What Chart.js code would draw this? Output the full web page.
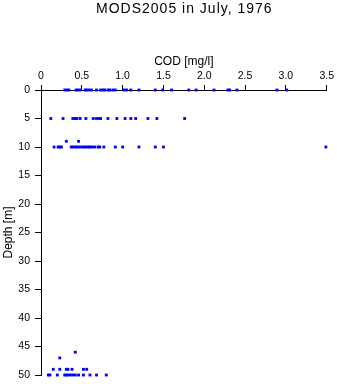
<!DOCTYPE html>
<html>
<head>
<meta charset="utf-8">
<script src="https://cdn.jsdelivr.net/npm/chart.js@4/dist/chart.umd.min.js"></script>
<style>
  html, body { margin: 0; padding: 0; background: #fff; }
  #c { display: block; }
</style>
</head>
<body>
<canvas id="c" width="337" height="384"></canvas>
<script>
// Sampling depths (m) and the COD readings (mg/l) taken at each depth
const depths = [0, 5, 9, 10, 46, 47, 49, 50];
const codAt0 = [0.29, 0.32, 0.34, 0.43, 0.45, 0.48, 0.54, 0.56, 0.59, 0.62, 0.68, 0.73, 0.76, 0.78, 0.82, 0.84, 0.88, 0.91, 1.02, 1.05, 1.10, 1.20, 1.40, 1.49, 1.60, 1.81, 1.90, 2.12, 2.29, 2.31, 2.40, 2.89, 3.01];
const codAt5 = [0.12, 0.27, 0.39, 0.42, 0.44, 0.48, 0.55, 0.64, 0.68, 0.71, 0.73, 0.82, 0.93, 1.03, 1.10, 1.16, 1.31, 1.42, 1.76];
const codAt9 = [0.31, 0.46];
const codAt10 = [0.16, 0.21, 0.23, 0.25, 0.37, 0.39, 0.42, 0.44, 0.47, 0.50, 0.53, 0.55, 0.58, 0.60, 0.63, 0.66, 0.70, 0.72, 0.77, 0.91, 1.00, 1.20, 1.40, 1.50, 3.49];
const codAt46 = [0.42];
const codAt47 = [0.23];
const codAt49 = [0.15, 0.23, 0.31, 0.33, 0.38, 0.52, 0.56];
const codAt50 = [0.09, 0.11, 0.20, 0.29, 0.31, 0.33, 0.36, 0.39, 0.42, 0.46, 0.52, 0.60, 0.68, 0.80];
const codByDepth = [codAt0, codAt5, codAt9, codAt10, codAt46, codAt47, codAt49, codAt50];

// Axis ranges
const codMin = 0, codMax = 3.5, codStep = 0.5;
const depthMin = 0, depthMax = 50, depthStep = 5;

const points = [];
depths.forEach((d, i) => {
  codByDepth[i].forEach(v => points.push({ x: v, y: d }));
});

const FONT = "'Liberation Sans', Arial, Helvetica, sans-serif";

// Main heading centred over the plotting area
const headingPlugin = {
  id: 'heading',
  afterDraw(chart) {
    const { ctx, chartArea } = chart;
    ctx.save();
    ctx.fillStyle = '#000';
    ctx.font = '14px ' + FONT;
    ctx.letterSpacing = '1px';
    ctx.textAlign = 'center';
    ctx.textBaseline = 'middle';
    ctx.fillText('MODS2005 in July, 1976', (chartArea.left + chartArea.right) / 2 + 0.5, 9);
    ctx.restore();
  }
};

new Chart(document.getElementById('c'), {
  type: 'scatter',
  data: {
    datasets: [{
      data: points,
      backgroundColor: '#0000ff',
      borderWidth: 0,
      pointStyle: 'rect',
      pointRadius: 2,
      pointHoverRadius: 2,
      clip: false
    }]
  },
  options: {
    responsive: false,
    animation: false,
    events: [],
    layout: { padding: { top: 0, left: 0, right: 10, bottom: 9 } },
    plugins: {
      legend: { display: false },
      tooltip: { enabled: false },
      title: { display: false }
    },
    scales: {
      x: {
        type: 'linear',
        position: 'top',
        min: codMin,
        max: codMax,
        afterFit(scale) { scale.height = 90; },
        ticks: {
          stepSize: codStep,
          color: '#000',
          padding: 3,
          maxRotation: 0,
          font: { family: FONT, size: 10.5 }
        },
        grid: { drawOnChartArea: false, drawTicks: true, tickLength: 5, color: '#000' },
        border: { display: true, color: '#000', width: 1 },
        title: {
          display: true,
          text: 'COD [mg/l]',
          color: '#000',
          font: { family: FONT, size: 12, lineHeight: 1.2 },
          padding: { top: 54, bottom: 0 }
        }
      },
      y: {
        type: 'linear',
        reverse: true,
        min: depthMin,
        max: depthMax,
        afterFit(scale) {
          scale.width = 41;
          // the end labels fit inside the layout padding already
          scale.paddingTop = 0;
          scale.paddingBottom = 0;
        },
        ticks: {
          stepSize: depthStep,
          color: '#000',
          padding: 5,
          font: { family: FONT, size: 10.5 }
        },
        grid: { drawOnChartArea: false, drawTicks: true, tickLength: 6, color: '#000' },
        border: { display: true, color: '#000', width: 1 },
        title: {
          display: true,
          text: 'Depth [m]',
          color: '#000',
          font: { family: FONT, size: 12, lineHeight: 1.2 },
          padding: { top: 1, bottom: 0 }
        }
      }
    }
  },
  plugins: [headingPlugin]
});
</script>
</body>
</html>
